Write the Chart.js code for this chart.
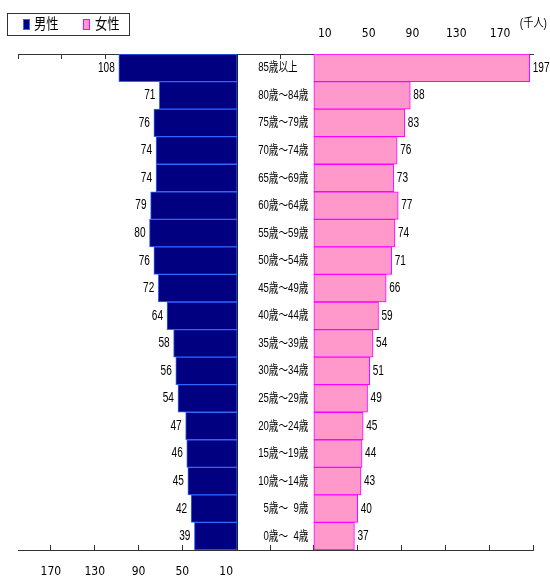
<!DOCTYPE html>
<html>
<head>
<meta charset="utf-8">
<script src="https://cdn.jsdelivr.net/npm/chart.js@4/dist/chart.umd.min.js"></script>
<style>
  html, body { margin: 0; padding: 0; background: #fff; }
  #wrap { width: 550px; height: 577px; position: relative; }
</style>
</head>
<body>
<div id="wrap"><canvas id="c"></canvas></div>
<script>
// Age groups, oldest first (top of the pyramid)
const ageGroups = [
  '85歳以上', '80歳～84歳', '75歳～79歳', '70歳～74歳', '65歳～69歳',
  '60歳～64歳', '55歳～59歳', '50歳～54歳', '45歳～49歳', '40歳～44歳',
  '35歳～39歳', '30歳～34歳', '25歳～29歳', '20歳～24歳', '15歳～19歳',
  '10歳～14歳', '\u20075歳～\u20079歳', '\u20070歳～\u20074歳'
];
// Population in thousands
const male   = [108, 71, 76, 74, 74, 79, 80, 76, 72, 64, 58, 56, 54, 47, 46, 45, 42, 39];
const female = [197, 88, 83, 76, 73, 77, 74, 71, 66, 59, 54, 51, 49, 45, 44, 43, 40, 37];
// Axis tick values (only the positive ones carry a label)
const tickValues = [-270, -230, -190, -150, -110, -70, -30, 10, 50, 90, 130, 170];
const axisMin = -270;
const axisMax = 200;
const seriesNames = ['男性', '女性'];
const unitLabel = '(千人)';

const TEXT_FONT = "'Liberation Sans', 'Noto Sans CJK JP', sans-serif";
const AXIS_FONT = "'DejaVu Sans Condensed', 'Liberation Sans', sans-serif";
const MALE_FILL = '#000080', MALE_EDGE = '#3366ff';
const FEMALE_FILL = '#ff99cc', FEMALE_EDGE = '#ff00ff';
const AXIS_COLOR = '#333333';

function axisTicks(scale) {
  scale.ticks = tickValues.map(v => ({ value: v }));
}
function tickLabel(v) { return v > 0 ? String(v) : ''; }

// narrow lettering: draw text squeezed horizontally around its anchor
function narrowText(ctx, text, x, y, align, size, squeeze) {
  ctx.save();
  ctx.translate(x, y);
  ctx.scale(squeeze, 1);
  ctx.font = size + 'px ' + TEXT_FONT;
  ctx.textAlign = align;
  ctx.textBaseline = 'middle';
  ctx.fillText(text, 0, 0);
  ctx.restore();
}

const labelsPlugin = {
  id: 'pyramidLabels',
  beforeDatasetsDraw(chart) {
    const ctx = chart.ctx, xm = chart.scales.x, area = chart.chartArea;
    const x0 = Math.round(xm.getPixelForValue(0)) + 0.5;
    ctx.save();
    ctx.strokeStyle = '#111';
    ctx.lineWidth = 1;
    ctx.beginPath();
    ctx.moveTo(x0, area.top);
    ctx.lineTo(x0, area.bottom);
    ctx.stroke();
    ctx.restore();
  },
  afterDatasetsDraw(chart) {
    const ctx = chart.ctx;
    const xm = chart.scales.x, xf = chart.scales.x2, y = chart.scales.y;
    ctx.save();
    ctx.fillStyle = '#000';
    const maleZero = xm.getPixelForValue(0);
    ageGroups.forEach((name, i) => {
      const py = y.getPixelForValue(i);
      // category name in the gap between the two halves
      narrowText(ctx, name, maleZero + 21, py, 'left', 13, 0.74);
      // male value to the left of its bar
      narrowText(ctx, String(male[i]), xm.getPixelForValue(male[i]) - 4, py, 'right', 14, 0.72);
      // female value to the right of its bar
      narrowText(ctx, String(female[i]), xf.getPixelForValue(female[i]) + 3, py, 'left', 14, 0.72);
    });

    // unit
    narrowText(ctx, unitLabel, 547, 24, 'right', 12, 0.85);

    // legend
    ctx.lineWidth = 1;
    ctx.strokeStyle = '#333';
    ctx.strokeRect(7.5, 13.5, 122, 22);
    ctx.fillStyle = MALE_FILL;
    ctx.strokeStyle = MALE_EDGE;
    ctx.fillRect(23, 19, 7, 11);
    ctx.strokeRect(23.5, 19.5, 6, 10);
    ctx.fillStyle = FEMALE_FILL;
    ctx.strokeStyle = FEMALE_EDGE;
    ctx.fillRect(83, 19, 7, 11);
    ctx.strokeRect(83.5, 19.5, 6, 10);
    ctx.fillStyle = '#000';
    narrowText(ctx, seriesNames[0], 34, 25, 'left', 15, 0.82);
    narrowText(ctx, seriesNames[1], 95, 25, 'left', 15, 0.82);
    ctx.restore();
  }
};

new Chart(document.getElementById('c'), {
  type: 'bar',
  data: {
    labels: ageGroups,
    datasets: [
      {
        label: seriesNames[0],
        data: male,
        xAxisID: 'x',
        backgroundColor: MALE_FILL,
        borderColor: MALE_EDGE,
        borderWidth: 1,
        borderSkipped: false
      },
      {
        label: seriesNames[1],
        data: female,
        xAxisID: 'x2',
        backgroundColor: FEMALE_FILL,
        borderColor: FEMALE_EDGE,
        borderWidth: 1,
        borderSkipped: false
      }
    ]
  },
  options: {
    indexAxis: 'y',
    responsive: true,
    maintainAspectRatio: false,
    animation: false,
    grouped: false,
    categoryPercentage: 1,
    barPercentage: 1,
    layout: { padding: { left: 18, right: 17, top: 0, bottom: 0 } },
    plugins: {
      legend: { display: false },
      tooltip: { enabled: false }
    },
    scales: {
      y: {
        type: 'category',
        display: false
      },
      x: {
        type: 'linear',
        position: 'bottom',
        reverse: true,
        min: axisMin,
        max: axisMax,
        afterBuildTicks: axisTicks,
        afterFit(scale) { scale.height = 27; },
        grid: { drawOnChartArea: false, drawTicks: true, tickLength: -5, color: AXIS_COLOR },
        border: { display: true, color: AXIS_COLOR, width: 1 },
        ticks: {
          callback: tickLabel,
          autoSkip: false,
          maxRotation: 0,
          padding: 20,
          color: '#000',
          font: { size: 12, family: AXIS_FONT }
        }
      },
      x2: {
        type: 'linear',
        position: 'top',
        min: axisMin,
        max: axisMax,
        afterBuildTicks: axisTicks,
        afterFit(scale) { scale.height = 54; },
        grid: { drawOnChartArea: false, drawTicks: true, tickLength: -5, color: AXIS_COLOR },
        border: { display: true, color: AXIS_COLOR, width: 1 },
        ticks: {
          callback: tickLabel,
          autoSkip: false,
          maxRotation: 0,
          padding: 18,
          color: '#000',
          font: { size: 12, family: AXIS_FONT }
        }
      }
    }
  },
  plugins: [labelsPlugin]
});
</script>
</body>
</html>
